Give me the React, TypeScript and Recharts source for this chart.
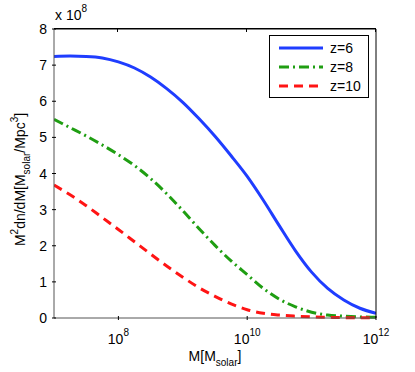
import { LineChart, Line, XAxis, YAxis, Label } from 'recharts';

// log10 of halo mass, sampled along the curves
const logMass = [7, 7.25, 7.5, 7.75, 8, 8.25, 8.5, 8.75, 9, 9.25, 9.5, 9.75, 10, 10.25, 10.5, 10.75, 11, 11.25, 11.5, 11.75, 12];
// values in units of 1e8
const z6 = [7.24, 7.25, 7.24, 7.2, 7.09, 6.92, 6.67, 6.35, 5.97, 5.52, 5.03, 4.49, 3.92, 3.26, 2.55, 1.86, 1.27, 0.82, 0.5, 0.27, 0.13];
const z8 = [5.5, 5.27, 5.04, 4.79, 4.52, 4.22, 3.86, 3.44, 2.97, 2.48, 2.01, 1.58, 1.2, 0.82, 0.52, 0.31, 0.16, 0.08, 0.05, 0.03, 0.02];
const z10 = [3.68, 3.41, 3.11, 2.78, 2.45, 2.11, 1.77, 1.44, 1.13, 0.84, 0.6, 0.39, 0.23, 0.13, 0.08, 0.05, 0.03, 0.02, 0.01, 0.01, 0.01];

const xTickExponents = [8, 10, 12];
const xDomainExp = [7, 12];
const yTicks = [0, 1, 2, 3, 4, 5, 6, 7, 8];

const series = [
  { key: 'z6', name: 'z=6', color: '#1f3dff', dash: undefined },
  { key: 'z8', name: 'z=8', color: '#1f9e12', dash: '10 4 2 4' },
  { key: 'z10', name: 'z=10', color: '#ff1414', dash: '9 6' },
];

const data = logMass.map((lg, i) => ({ M: Math.pow(10, lg), lg, z6: z6[i], z8: z8[i], z10: z10[i] }));
const xTicks = xTickExponents.map((e) => Math.pow(10, e));

// layout
const W = 415;
const H = 372;
const MARGIN = { top: -1, right: 9, bottom: 14, left: 24 };
const Y_AXIS_W = 30;
const TOP_AXIS_H = 30;
const PLOT_LEFT = MARGIN.left + Y_AXIS_W;
const PLOT_RIGHT = W - MARGIN.right - Y_AXIS_W;
const PLOT_TOP = MARGIN.top + TOP_AXIS_H;

const FONT = '"Liberation Sans", Arial, sans-serif';
const TICK = 4;

const BottomTick = ({ x, y, payload }: any) => {
  const exp = Math.round(Math.log10(payload.value));
  return (
    <g>
      <line x1={x} x2={x} y1={y} y2={y - TICK} stroke="#000" />
      <text x={x} y={y + 24} textAnchor="middle" fontSize={14} fontFamily={FONT} fill="#000">
        <tspan>10</tspan>
        <tspan fontSize={10} dy={-8}>{exp}</tspan>
      </text>
    </g>
  );
};

const LeftTick = ({ x, y, payload }: any) => (
  <g>
    <line x1={x} x2={x + TICK} y1={y} y2={y} stroke="#000" />
    <text x={x - 5} y={y + 5} textAnchor="end" fontSize={14} fontFamily={FONT} fill="#000">
      {payload.value}
    </text>
  </g>
);

const RightTick = ({ x, y }: any) => <line x1={x} x2={x - TICK} y1={y} y2={y} stroke="#000" />;

const XLabel = ({ viewBox }: any) => {
  const cx = viewBox.x + viewBox.width / 2;
  return (
    <text x={cx} y={viewBox.y + 43} textAnchor="middle" fontSize={14} fontFamily={FONT} fill="#000">
      <tspan>M[M</tspan>
      <tspan fontSize={10} dy={5}>solar</tspan>
      <tspan dy={-5}>]</tspan>
    </text>
  );
};

const YLabel = ({ viewBox }: any) => {
  const cy = viewBox.y + viewBox.height / 2 + 6;
  const x = 25;
  return (
    <g>
      <text transform={`translate(${x},${cy}) rotate(-90)`} textAnchor="middle" fontSize={14} fontFamily={FONT} fill="#000">
        <tspan>M</tspan>
        <tspan fontSize={10} dy={-7}>2</tspan>
        <tspan dy={7}>dn/dM[M</tspan>
        <tspan fontSize={10} dy={5}>solar</tspan>
        <tspan dy={-5}>/Mpc</tspan>
        <tspan fontSize={10} dy={-7}>3</tspan>
        <tspan dy={7}>]</tspan>
      </text>
      <text x={55} y={20} fontSize={14} fontFamily={FONT} fill="#000">
        <tspan>x 10</tspan>
        <tspan fontSize={10} dy={-8}>8</tspan>
      </text>
    </g>
  );
};

// top edge of the box with inward ticks
function TopFrame() {
  const span = PLOT_RIGHT - PLOT_LEFT;
  return (
    <div style={{ position: 'absolute', left: PLOT_LEFT, top: PLOT_TOP - 1, width: span, height: 1, background: '#000' }}>
      {xTickExponents.map((e) => (
        <div
          key={e}
          style={{
            position: 'absolute',
            left: ((e - xDomainExp[0]) / (xDomainExp[1] - xDomainExp[0])) * span - 1,
            top: 0,
            width: 1,
            height: TICK,
            background: '#000',
          }}
        />
      ))}
    </div>
  );
}

function LegendBox() {
  return (
    <div
      style={{
        position: 'absolute',
        left: 269,
        top: 35,
        width: 98,
        height: 61,
        border: '1px solid #000',
        background: '#fff',
        fontFamily: FONT,
        fontSize: 14,
      }}
    >
      {series.map((s, i) => (
        <div key={s.key} style={{ position: 'absolute', left: 8, top: 2 + i * 19, height: 19, display: 'flex', alignItems: 'center' }}>
          <svg width={46} height={10}>
            <line x1={1} x2={45} y1={5} y2={5} stroke={s.color} strokeWidth={3} strokeDasharray={s.dash} />
          </svg>
          <span style={{ marginLeft: 6 }}>{s.name}</span>
        </div>
      ))}
    </div>
  );
}

export default function App() {
  return (
    <div style={{ position: 'absolute', left: 0, top: 0, width: W, height: H, background: '#fff' }}>
      <LineChart width={W} height={H} data={data} margin={MARGIN}>
        <XAxis
          dataKey="M"
          type="number"
          scale="log"
          domain={[1e7, 1e12]}
          ticks={xTicks}
          allowDataOverflow
          height={40}
          tickSize={0}
          tickLine={false}
          axisLine={{ stroke: '#555' }}
          tick={<BottomTick />}
          interval={0}
        >
          <Label content={<XLabel />} />
        </XAxis>
        <XAxis
          xAxisId="top"
          orientation="top"
          dataKey="lg"
          type="number"
          domain={xDomainExp}
          ticks={xTickExponents}
          height={TOP_AXIS_H}
          tickSize={-TICK}
          tickLine={{ stroke: '#000' }}
          tick={false}
          stroke="#000"
          interval={0}
        />
        <YAxis
          domain={[0, 8]}
          ticks={yTicks}
          width={Y_AXIS_W}
          tickSize={0}
          tickLine={false}
          axisLine={{ stroke: '#555' }}
          tick={<LeftTick />}
          interval={0}
        >
          <Label content={<YLabel />} />
        </YAxis>
        <YAxis
          yAxisId="right"
          orientation="right"
          domain={[0, 8]}
          ticks={yTicks}
          width={Y_AXIS_W}
          tickSize={0}
          tickLine={false}
          axisLine={{ stroke: '#000' }}
          tick={<RightTick />}
          interval={0}
        />
        {series.map((s) => (
          <Line
            key={s.key}
            type="monotone"
            dataKey={s.key}
            stroke={s.color}
            strokeWidth={3}
            strokeDasharray={s.dash}
            dot={false}
            isAnimationActive={false}
          />
        ))}
      </LineChart>
      <TopFrame />
      <LegendBox />
    </div>
  );
}
